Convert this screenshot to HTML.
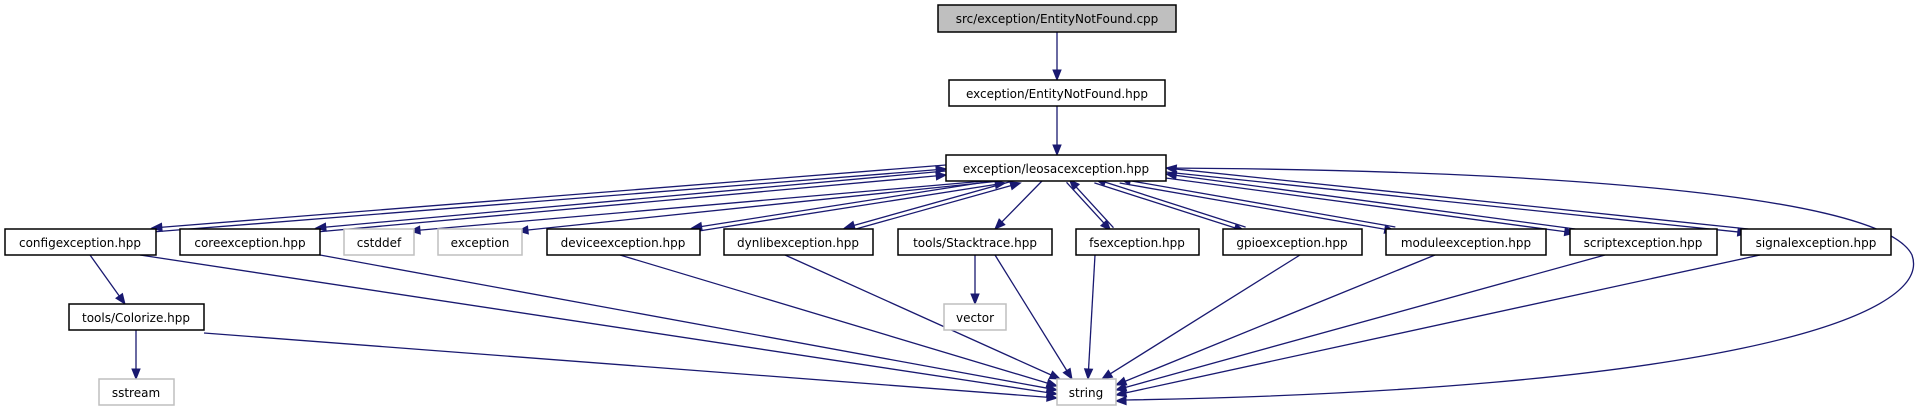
<!DOCTYPE html>
<html><head><meta charset="utf-8"><style>
html,body{margin:0;padding:0;background:#fff;}
svg{display:block;}
text{font-family:"DejaVu Sans","Liberation Sans",sans-serif;font-size:12px;fill:#000;}
</style></head><body>
<svg id="s" width="1919" height="411" viewBox="0 0 1919 411" xmlns="http://www.w3.org/2000/svg">
<g id="edges" stroke="#191970" stroke-width="1.3" fill="none"></g>
<g id="heads" fill="#191970" stroke="#191970"></g>
<g stroke-width="1.5">
<rect x="938" y="5" width="238" height="27" fill="#bfbfbf" stroke="#000"/>
<text x="1057" y="23" text-anchor="middle">src/exception/EntityNotFound.cpp</text>
<rect x="949" y="80" width="216" height="26" fill="#fff" stroke="#000"/>
<text x="1057" y="98" text-anchor="middle">exception/EntityNotFound.hpp</text>
<rect x="946" y="155" width="220" height="26" fill="#fff" stroke="#000"/>
<text x="1056" y="173" text-anchor="middle">exception/leosacexception.hpp</text>

<rect x="5" y="229" width="151" height="26" fill="#fff" stroke="#000"/>
<text x="80" y="247" text-anchor="middle">configexception.hpp</text>
<rect x="180" y="229" width="140" height="26" fill="#fff" stroke="#000"/>
<text x="250" y="247" text-anchor="middle">coreexception.hpp</text>
<rect x="344" y="229" width="70" height="26" fill="#fff" stroke="#bfbfbf"/>
<text x="379" y="247" text-anchor="middle">cstddef</text>
<rect x="438" y="229" width="84" height="26" fill="#fff" stroke="#bfbfbf"/>
<text x="480" y="247" text-anchor="middle">exception</text>
<rect x="547" y="229" width="153" height="26" fill="#fff" stroke="#000"/>
<text x="623" y="247" text-anchor="middle">deviceexception.hpp</text>
<rect x="724" y="229" width="149" height="26" fill="#fff" stroke="#000"/>
<text x="798" y="247" text-anchor="middle">dynlibexception.hpp</text>
<rect x="898" y="229" width="154" height="26" fill="#fff" stroke="#000"/>
<text x="975" y="247" text-anchor="middle">tools/Stacktrace.hpp</text>
<rect x="1076" y="229" width="123" height="26" fill="#fff" stroke="#000"/>
<text x="1137" y="247" text-anchor="middle">fsexception.hpp</text>
<rect x="1223" y="229" width="139" height="26" fill="#fff" stroke="#000"/>
<text x="1292" y="247" text-anchor="middle">gpioexception.hpp</text>
<rect x="1386" y="229" width="160" height="26" fill="#fff" stroke="#000"/>
<text x="1466" y="247" text-anchor="middle">moduleexception.hpp</text>
<rect x="1570" y="229" width="147" height="26" fill="#fff" stroke="#000"/>
<text x="1643" y="247" text-anchor="middle">scriptexception.hpp</text>
<rect x="1741" y="229" width="150" height="26" fill="#fff" stroke="#000"/>
<text x="1816" y="247" text-anchor="middle">signalexception.hpp</text>

<rect x="69" y="304" width="135" height="26" fill="#fff" stroke="#000"/>
<text x="136" y="322" text-anchor="middle">tools/Colorize.hpp</text>
<rect x="944" y="304" width="62" height="26" fill="#fff" stroke="#bfbfbf"/>
<text x="975" y="322" text-anchor="middle">vector</text>
<rect x="99" y="379" width="75" height="26" fill="#fff" stroke="#bfbfbf"/>
<text x="136" y="397" text-anchor="middle">sstream</text>
<rect x="1057" y="379" width="59" height="26" fill="#fff" stroke="#bfbfbf"/>
<text x="1086" y="397" text-anchor="middle">string</text>
</g>
</svg>
<script>
var E=document.getElementById('edges'),H=document.getElementById('heads'),NS='http://www.w3.org/2000/svg';
function head(x1,y1,x2,y2){var dx=x2-x1,dy=y2-y1,l=Math.hypot(dx,dy),ux=dx/l,uy=dy/l,L=10,W=4;
var bx=x2-ux*L,by=y2-uy*L;var p=document.createElementNS(NS,'polygon');
p.setAttribute('points',x2+','+y2+' '+(bx-uy*W)+','+(by+ux*W)+' '+(bx+uy*W)+','+(by-ux*W));H.appendChild(p);return [bx,by];}
function edge(x1,y1,x2,y2,off){off=off||0;var dx=x2-x1,dy=y2-y1,l=Math.hypot(dx,dy);var ox=-dy/l*off,oy=dx/l*off;
x1+=ox;y1+=oy;x2+=ox;y2+=oy;var b=head(x1,y1,x2,y2);var ln=document.createElementNS(NS,'line');
ln.setAttribute('x1',x1);ln.setAttribute('y1',y1);ln.setAttribute('x2',b[0]);ln.setAttribute('y2',b[1]);E.appendChild(ln);}
function bi(ax,ay,bx,by){edge(ax,ay,bx,by,2);edge(bx,by,ax,ay,2);}
edge(1057,32,1057,80);edge(1057,106,1057,155);
bi(946,167,152,230);bi(946,173,316,230);
edge(985,181,410,231);edge(1000,181,518,231);
bi(1005,181,692,230);bi(1020,181,845,230);
edge(1042,181,995,229);
bi(1068,181,1112,229);bi(1095,181,1245,229);bi(1120,181,1395,229);
bi(1166,176,1575,231);bi(1166,170,1748,231);
edge(90,255,125,304);edge(136,330,136,379);
edge(204,333,1057,398);edge(140,255,1057,394);edge(320,255,1057,390);
edge(620,255,1057,386);edge(785,255,1060,379);
edge(975,255,975,304);edge(995,255,1072,379);
edge(1095,255,1088,379);edge(1300,255,1102,379);edge(1435,255,1116,385);
edge(1605,255,1116,390);edge(1760,255,1116,395);
var c=document.createElementNS(NS,'path');c.setAttribute('d','M1166,168 C1500,170 1880,190 1912,255 C1935,320 1700,390 1126,400');E.appendChild(c);
head(1180,399,1116,401);
</script>
</body></html>
